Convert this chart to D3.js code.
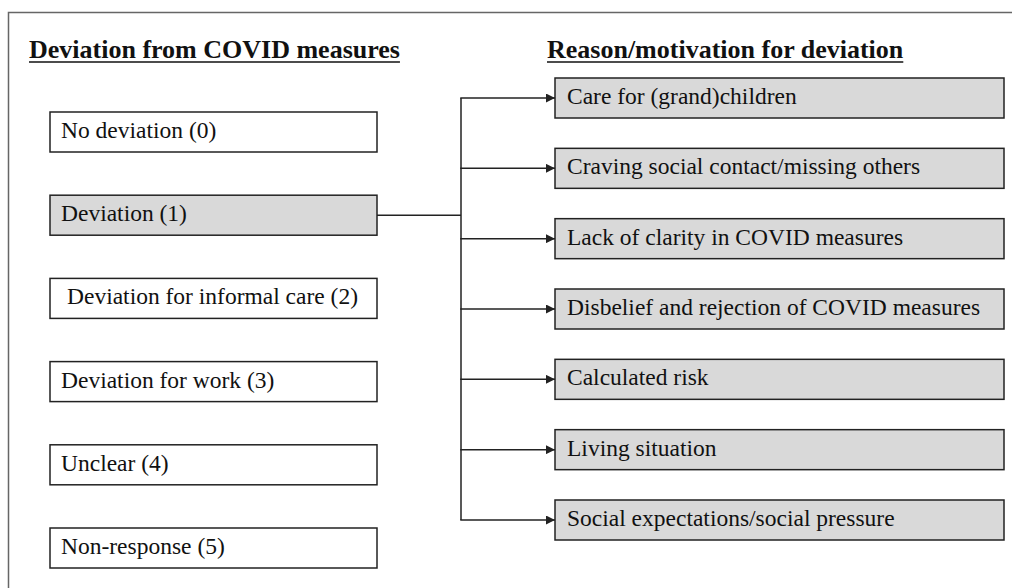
<!DOCTYPE html>
<html>
<head>
<meta charset="utf-8">
<script src="https://cdn.jsdelivr.net/npm/d3@7"></script>
<style>
  html, body { margin: 0; padding: 0; background: #fff; }
  svg { display: block; }
  text { font-family: "Liberation Serif", "Times New Roman", serif; fill: #111; }
</style>
</head>
<body>
<svg id="chart" width="1012" height="588"></svg>
<script>
// ---- data ----
const leftTitle = "Deviation from COVID measures";
const rightTitle = "Reason/motivation for deviation";
const deviationCategories = [
  "No deviation (0)",
  "Deviation (1)",
  "Deviation for informal care (2)",
  "Deviation for work (3)",
  "Unclear (4)",
  "Non-response (5)"
];
const highlightedCategory = "Deviation (1)";
const reasonCategories = [
  "Care for (grand)children",
  "Craving social contact/missing others",
  "Lack of clarity in COVID measures",
  "Disbelief and rejection of COVID measures",
  "Calculated risk",
  "Living situation",
  "Social expectations/social pressure"
];

// ---- layout ----
const W = 1012, H = 588;
const svg = d3.select("#chart");

const boxH = 40;
const leftX = 50, leftW = 327;
const rightX = 555, rightW = 449;
const trunkX = 461;

const yLeft = d3.scalePoint().domain(deviationCategories).range([132, 548]);
const yRight = d3.scalePoint().domain(reasonCategories).range([98, 520]);

const stroke = "#222";
const grayFill = "#d9d9d9";

// outer frame (open to right and bottom)
svg.append("path")
  .attr("d", `M${W},12.5 H8.5 V${H}`)
  .attr("fill", "none").attr("stroke", "#666").attr("stroke-width", 1.5);

// titles with underline
function title(txt, x) {
  const t = svg.append("text")
    .attr("x", x).attr("y", 58)
    .attr("font-size", 26).attr("font-weight", "bold")
    .text(txt);
  const len = t.node().getComputedTextLength();
  svg.append("line")
    .attr("x1", x).attr("x2", x + len)
    .attr("y1", 62).attr("y2", 62)
    .attr("stroke", "#111").attr("stroke-width", 1.6);
}
title(leftTitle, 29);
title(rightTitle, 547);

// arrow marker
svg.append("defs").append("marker")
  .attr("id", "arrow")
  .attr("viewBox", "0 0 10 10")
  .attr("refX", 10).attr("refY", 5)
  .attr("markerWidth", 9).attr("markerHeight", 9)
  .attr("markerUnits", "userSpaceOnUse")
  .attr("orient", "auto")
  .append("path").attr("d", "M0,0 L10,5 L0,10 z").attr("fill", stroke);

// connectors
const devY = yLeft(highlightedCategory);
svg.append("line")
  .attr("x1", leftX + leftW).attr("x2", trunkX)
  .attr("y1", devY).attr("y2", devY)
  .attr("stroke", stroke).attr("stroke-width", 1.5);
svg.append("line")
  .attr("x1", trunkX).attr("x2", trunkX)
  .attr("y1", yRight(reasonCategories[0])).attr("y2", yRight(reasonCategories[reasonCategories.length - 1]))
  .attr("stroke", stroke).attr("stroke-width", 1.5);
svg.selectAll("line.arrow").data(reasonCategories).join("line")
  .attr("class", "arrow")
  .attr("x1", trunkX - 0.75).attr("x2", rightX)
  .attr("y1", d => yRight(d)).attr("y2", d => yRight(d))
  .attr("stroke", stroke).attr("stroke-width", 1.5)
  .attr("marker-end", "url(#arrow)");

// left boxes
const lg = svg.selectAll("g.left").data(deviationCategories).join("g")
  .attr("class", "left")
  .attr("transform", d => `translate(${leftX},${yLeft(d) - boxH / 2})`);
lg.append("rect")
  .attr("width", leftW).attr("height", boxH)
  .attr("fill", d => d === highlightedCategory ? grayFill : "#fff")
  .attr("stroke", stroke).attr("stroke-width", 1.5);
lg.append("text")
  .attr("x", d => d.indexOf("informal") >= 0 ? 17 : 11)
  .attr("y", boxH / 2 + 6)
  .attr("font-size", 23.5)
  .text(d => d);

// right boxes
const rg = svg.selectAll("g.right").data(reasonCategories).join("g")
  .attr("class", "right")
  .attr("transform", d => `translate(${rightX},${yRight(d) - boxH / 2})`);
rg.append("rect")
  .attr("width", rightW).attr("height", boxH)
  .attr("fill", grayFill)
  .attr("stroke", stroke).attr("stroke-width", 1.5);
rg.append("text")
  .attr("x", 12)
  .attr("y", boxH / 2 + 6)
  .attr("font-size", 23.5)
  .text(d => d);
</script>
</body>
</html>
